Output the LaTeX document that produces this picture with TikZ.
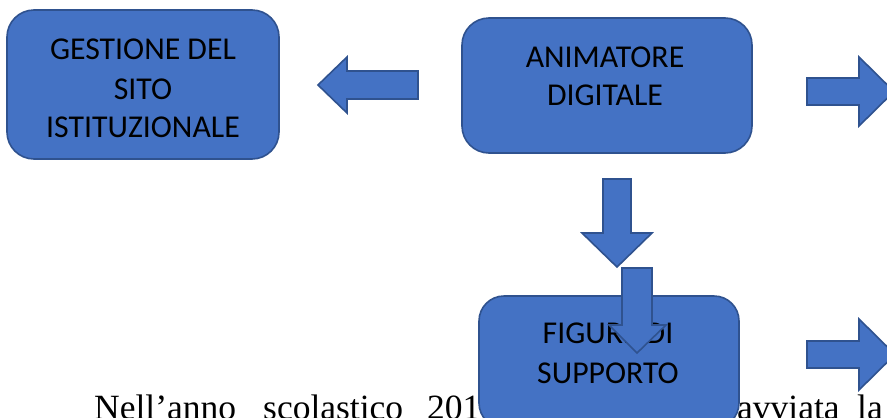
\documentclass[tikz,border=0pt]{standalone}
\usepackage{fontspec}
\newfontfamily\boxfont{Carlito}
\newfontfamily\bodyfont{Liberation Serif}
\definecolor{boxfill}{HTML}{4472C4}
\definecolor{boxline}{HTML}{2F528F}
\tikzset{
  blockbox/.style={draw=boxline, fill=boxfill, line width=1.6pt, rounded corners=27pt},
  blockarrow/.style={draw=boxline, fill=boxfill, line width=1.6pt, line join=miter},
  lbl/.style={inner sep=0pt, anchor=base, font=\boxfont\fontsize{31.8}{39}\selectfont, text=black},
  bodytxt/.style={inner sep=0pt, anchor=base west, font=\bodyfont\fontsize{35.5}{42}\selectfont, text=black}
}
\begin{document}
\begin{tikzpicture}[x=1pt,y=-1pt]
\useasboundingbox (0,0) rectangle (887,418);
\clip (0,0) rectangle (887,418);
\fill[white] (0,0) rectangle (887,418);
% body text behind the lower box
\node[bodytxt] (w1) at (94,419) {Nell’anno};
\node[bodytxt] (w2) at (263,419) {scolastico};
\node[bodytxt] (w3) at (427,419) {201};
\node[bodytxt] (w4) at (737,419) {avviata};
\node[bodytxt] (w5) at (857,419) {la};
% boxes
\draw[blockbox] (7,10) rectangle (279,159);
\node[lbl] (g1) at (143,59) {GESTIONE DEL};
\node[lbl] (g2) at (143,99) {SITO};
\node[lbl] (g3) at (143,137.5) {ISTITUZIONALE};
\draw[blockbox] (462,18) rectangle (752,153);
\node[lbl] (a1) at (605,67) {ANIMATORE};
\node[lbl] (a2) at (605,105) {DIGITALE};
\draw[blockbox, rounded corners=25pt] (479,296) rectangle (739,428);
\node[lbl] (f1) at (608,343) {FIGURE DI};
\node[lbl] (f2) at (608,383) {SUPPORTO};
% block arrows
\draw[blockarrow] (418,71) -- (347,71) -- (347,57) -- (318,85) -- (347,113) -- (347,99) -- (418,99) -- cycle;
\draw[blockarrow] (807,78) -- (859,78) -- (859,57) -- (894,91.5) -- (859,126) -- (859,105) -- (807,105) -- cycle;
\draw[blockarrow] (603,179) -- (631,179) -- (631,233) -- (652,233) -- (617,267) -- (582,233) -- (603,233) -- cycle;
\draw[blockarrow] (622,268) -- (652,268) -- (652,325) -- (666,325) -- (637,353) -- (609,325) -- (622,325) -- cycle;
\draw[blockarrow] (807,341) -- (859,341) -- (859,319) -- (895,354.5) -- (859,390) -- (859,368) -- (807,368) -- cycle;
\end{tikzpicture}
\end{document}
